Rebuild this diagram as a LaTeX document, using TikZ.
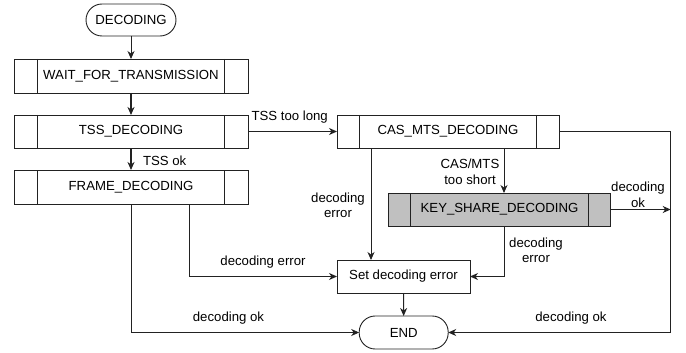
\documentclass[tikz,border=0pt]{standalone}
\usepackage{fontspec}
\setmainfont{Liberation Sans}
\usetikzlibrary{arrows.meta,calc}
\definecolor{keyfill}{HTML}{C0C0C0}
\definecolor{linec}{HTML}{222222}
\begin{document}
\begin{tikzpicture}[x=1pt,y=-1pt,
  every node/.style={font=\fontsize{13.2}{15.5}\selectfont, inner sep=0pt, outer sep=0pt},
  proc/.style={draw=linec, line width=0.9pt, minimum height=33pt},
  term/.style={draw=linec, line width=0.9pt, minimum height=33pt, rounded corners=16pt},
  lbl/.style={align=center},
  conn/.style={draw=linec, line width=0.9pt, -{Stealth[length=8pt,width=7pt,inset=2.5pt]}},
  thickconn/.style={conn, line width=1.7pt},
  wire/.style={draw=linec, line width=0.9pt}
]
\useasboundingbox (0,0) rectangle (686,353);

% nodes
\node[term, minimum width=90pt, minimum height=32pt] (dec) at (131,20) {DECODING};
\node[proc, minimum width=234pt, minimum height=34pt] (wait) at (131,76) {WAIT\_FOR\_TRANSMISSION};
\node[proc, minimum width=234pt] (tss) at (131,131.5) {TSS\_DECODING};
\node[proc, minimum width=234pt, minimum height=34pt] (frame) at (131,187) {FRAME\_DECODING};
\node[proc, minimum width=222pt] (cas) at (448,131.5) {CAS\_MTS\_DECODING};
\node[proc, fill=keyfill, minimum width=222.6pt] (key) at (499.5,209.5) {KEY\_SHARE\_DECODING};
\node[proc, minimum width=133pt] (set) at (403.5,276.5) {Set decoding error};
\node[term, minimum width=89pt] (end) at (403.7,332.5) {END};

% subroutine side bars
\foreach \n/\w in {wait/23.5, tss/23.5, frame/23.5, cas/22.5, key/22.3}{
  \draw[wire] ($(\n.north west)+(\w,0)$) -- ($(\n.south west)+(\w,0)$);
  \draw[wire] ($(\n.north east)+(-\w,0)$) -- ($(\n.south east)+(-\w,0)$);
}

% helper coordinates
\coordinate (kx) at (504,0);
\coordinate (cx) at (371,0);
\coordinate (fx) at (189.5,0);
\coordinate (rx) at (670.7,0);

% connectors
\draw[conn] (dec) -- (wait);
\draw[thickconn] (wait) -- (tss);
\draw[thickconn] (tss) -- (frame);
\draw[conn] (tss.east) -- (cas.west);
\draw[conn] (cas.south -| kx) -- (key.north -| kx);
\draw[conn] (cas.south -| cx) -- (set.north -| cx);
\draw[conn] (cas.east) -- (cas.east -| rx) |- (end.east);
\draw[conn] (key.east) -- (key.east -| rx);
\draw[conn] (key.south -| kx) |- (set.east);
\draw[conn] (frame.south -| fx) |- (set.west);
\draw[conn] (frame.south) |- (end.west);
\draw[conn] (set) -- (end);

% labels
\node[lbl, anchor=west] (l1) at (143,160.7) {TSS ok};
\node[lbl, anchor=west] (l2) at (251.5,117) {TSS too long};
\node[lbl] (l3) at (470,172) {CAS/MTS\\too short};
\node[lbl] (l4) at (338,205.5) {decoding\\error};
\node[lbl] (l5) at (638,195) {decoding\\ok};
\node[lbl] (l6) at (536,250.5) {decoding\\error};
\node[lbl] (l7) at (263,261.7) {decoding error};
\node[lbl] (l8) at (228.5,318) {decoding ok};
\node[lbl] (l9) at (571,318) {decoding ok};
\end{tikzpicture}
\end{document}
